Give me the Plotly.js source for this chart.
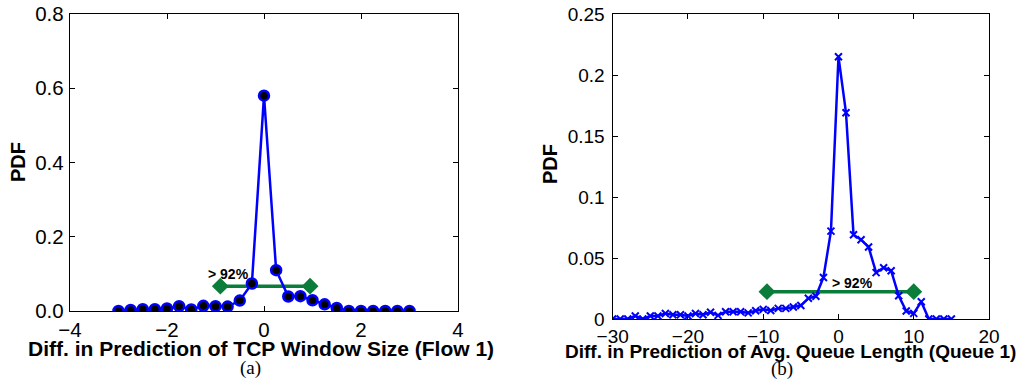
<!DOCTYPE html>
<html>
<head>
<meta charset="utf-8">
<script src="https://cdn.plot.ly/plotly-3.0.1.min.js"></script>
<style>html,body{margin:0;padding:0;background:#fff;}#chart{width:1021px;height:381px;}</style>
</head>
<body>
<div id="chart"></div>
<script>
// Panel (a): TCP window size prediction difference
const windowDiff = [-3,-2.75,-2.5,-2.25,-2,-1.75,-1.5,-1.25,-1,-0.75,-0.5,-0.25,0,0.25,0.5,0.75,1,1.25,1.5,1.75,2,2.25,2.5,2.75,3];
const windowPdf  = [0,0.003,0.005,0.005,0.007,0.013,0.004,0.014,0.013,0.012,0.028,0.074,0.58,0.11,0.039,0.04,0.029,0.018,0.008,0,0,0,0,0,0];
const rangeA_x = [-0.9, 0.95];
const rangeA_y = [0.067, 0.067];
const labelA = "> 92%";

// Panel (b): Avg. queue length prediction difference
const queueDiff = [-30,-29,-28,-27,-26,-25,-24,-23,-22,-21,-20,-19,-18,-17,-16,-15,-14,-13,-12,-11,-10,-9,-8,-7,-6,-5,-4,-3,-2,-1,0,1,2,3,4,5,6,7,8,9,10,11,12,13,14,15];
const queuePdf  = [0,0,0,0.0025,0,0.0025,0.0025,0.0045,0.0035,0.0035,0.0025,0.0045,0.0035,0.0055,0.003,0.006,0.006,0.006,0.005,0.0068,0.0079,0.007,0.0087,0.0087,0.0098,0.011,0.017,0.0186,0.034,0.072,0.215,0.169,0.069,0.065,0.059,0.038,0.042,0.0396,0.019,0.0066,0.0046,0.0142,0,0,0,0];
const rangeB_x = [-9.5, 10];
const rangeB_y = [0.0224, 0.0224];
const labelB = "> 92%";

const xTitleA = "Diff. in Prediction of TCP Window Size (Flow 1)";
const xTitleB = "Diff. in Prediction of Avg. Queue Length (Queue 1)";
const yTitle = "PDF";
const tagA = "(a)", tagB = "(b)";

const W = 1021, H = 381;
const px = v => v / W, py = v => 1 - v / H;

const green = '#0b7d3b', blue = '#0000ff';
const traces = [
  {x: rangeA_x, y: rangeA_y, xaxis: 'x', yaxis: 'y', mode: 'lines+markers', type: 'scatter',
   line: {color: green, width: 3.5}, marker: {symbol: 'diamond', size: 13, color: green}, hoverinfo: 'skip'},
  {x: windowDiff, y: windowPdf, xaxis: 'x', yaxis: 'y', mode: 'lines+markers', type: 'scatter',
   line: {color: blue, width: 2.5}, marker: {symbol: 'circle', size: 10, color: '#000', line: {color: blue, width: 2.5}}},
  {x: rangeB_x, y: rangeB_y, xaxis: 'x2', yaxis: 'y2', mode: 'lines+markers', type: 'scatter',
   line: {color: green, width: 3.5}, marker: {symbol: 'diamond', size: 13, color: green}, hoverinfo: 'skip'},
  {x: queueDiff, y: queuePdf, xaxis: 'x2', yaxis: 'y2', mode: 'lines+markers', type: 'scatter',
   line: {color: blue, width: 2.5}, marker: {symbol: 'x-thin', size: 7, color: blue, line: {color: blue, width: 2}}}
];

const sans = 'Liberation Sans, Arial, sans-serif';
const tickFontA = {family: sans, size: 20.5, color: '#000'};
const tickFontB = {family: sans, size: 19, color: '#000'};
const axBase = {showgrid: false, zeroline: false, showline: true, linecolor: '#000', linewidth: 1.2,
  mirror: 'ticks', ticks: 'inside', ticklen: 5, tickcolor: '#000', tickwidth: 1};

const titleFontA = {family: sans, size: 21, color: '#000', weight: 'bold'};
const titleFontB = {family: sans, size: 19, color: '#000', weight: 'bold'};
const pdfFont = {family: sans, size: 20, color: '#000', weight: 'bold'};
const serif = {family: 'Liberation Serif, Times New Roman, serif', size: 19, color: '#000'};
const noteFont = {family: sans, size: 14, color: '#000', weight: 'bold'};

const layout = {
  width: W, height: H, margin: {l: 0, r: 0, t: 0, b: 0}, showlegend: false,
  paper_bgcolor: '#fff', plot_bgcolor: '#fff',
  xaxis: Object.assign({}, axBase, {domain: [px(70), px(458)], range: [-4, 4], tickvals: [-4,-2,0,2,4], anchor: 'y', tickfont: tickFontA, ticklabelstandoff: 0}),
  yaxis: Object.assign({}, axBase, {domain: [py(311), py(14)], range: [0, 0.8], tickvals: [0,0.2,0.4,0.6,0.8], tickformat: '.1f', anchor: 'x', tickfont: tickFontA, ticklabelstandoff: 1}),
  xaxis2: Object.assign({}, axBase, {domain: [px(612.7), px(989)], range: [-30, 20], tickvals: [-30,-20,-10,0,10,20], anchor: 'y2', tickfont: tickFontB, ticklabelstandoff: 0}),
  yaxis2: Object.assign({}, axBase, {domain: [py(319), py(14)], range: [0, 0.25], tickvals: [0,0.05,0.1,0.15,0.2,0.25], anchor: 'x2', tickfont: tickFontB, ticklabelstandoff: 3}),
  annotations: [
    {text: xTitleA, xref: 'paper', yref: 'paper', x: px(261), y: py(348), showarrow: false, font: titleFontA, xanchor: 'center', yanchor: 'middle'},
    {text: xTitleB, xref: 'paper', yref: 'paper', x: px(790), y: py(351), showarrow: false, font: titleFontB, xanchor: 'center', yanchor: 'middle'},
    {text: yTitle, xref: 'paper', yref: 'paper', x: px(18), y: py(162), showarrow: false, font: pdfFont, textangle: -90, xanchor: 'center', yanchor: 'middle'},
    {text: yTitle, xref: 'paper', yref: 'paper', x: px(550), y: py(164), showarrow: false, font: pdfFont, textangle: -90, xanchor: 'center', yanchor: 'middle'},
    {text: tagA, xref: 'paper', yref: 'paper', x: px(250), y: py(368), showarrow: false, font: serif, xanchor: 'center', yanchor: 'middle'},
    {text: tagB, xref: 'paper', yref: 'paper', x: px(782), y: py(369), showarrow: false, font: serif, xanchor: 'center', yanchor: 'middle'},
    {text: labelA, xref: 'x', yref: 'y', x: -0.74, y: 0.0997, showarrow: false, font: noteFont, xanchor: 'center', yanchor: 'middle'},
    {text: labelB, xref: 'x2', yref: 'y2', x: 1.86, y: 0.0295, showarrow: false, font: noteFont, xanchor: 'center', yanchor: 'middle'}
  ]
};

Plotly.newPlot('chart', traces, layout, {displayModeBar: false, staticPlot: true});
</script>
</body>
</html>
